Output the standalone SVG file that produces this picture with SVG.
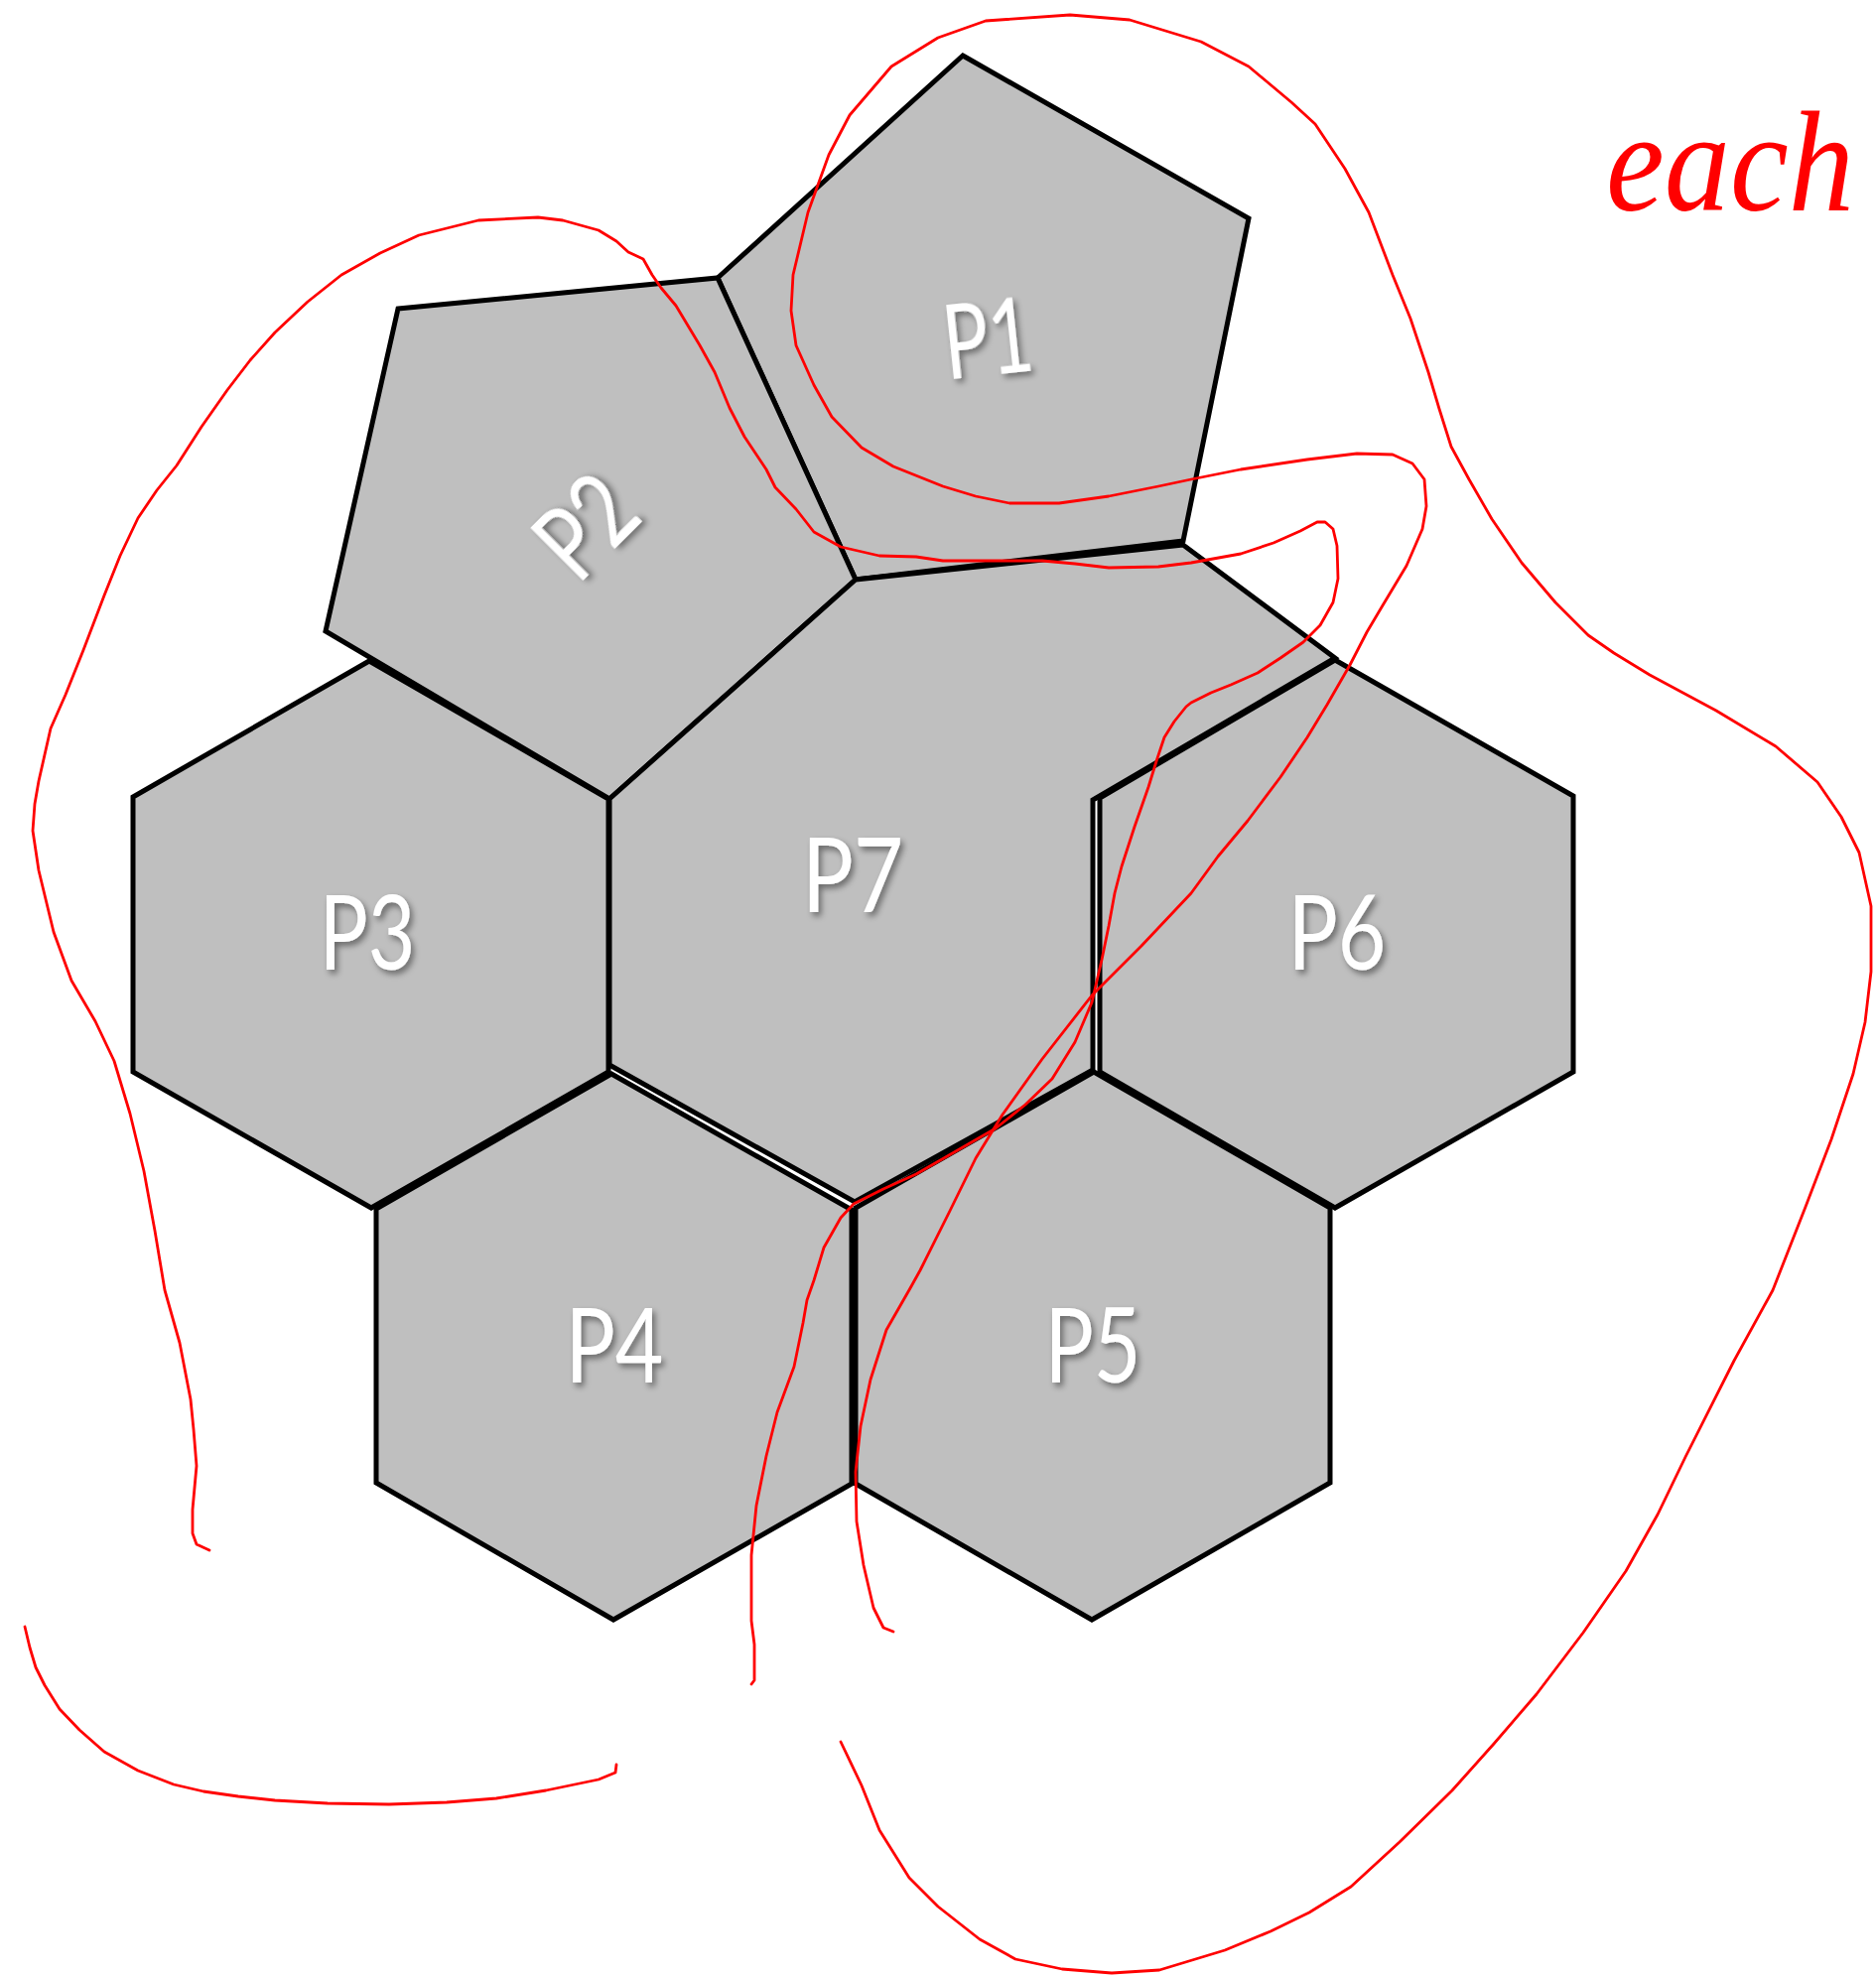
<svg xmlns="http://www.w3.org/2000/svg" width="1890" height="1993" viewBox="0 0 1890 1993">
<defs>
<style>
.tile{fill:#bfbfbf;stroke:#000;stroke-width:5;stroke-linejoin:miter}
.lbl{fill:#fff;font-family:Lato,"Open Sans","Liberation Sans",sans-serif;font-size:104px;text-anchor:middle;filter:url(#sh)}
.pen{fill:none;stroke:#ff0000;stroke-width:2.8;stroke-linecap:round;stroke-linejoin:round}
.hand{fill:#ff0000;font-family:"Liberation Serif",serif;font-style:italic;font-size:145px}
</style>
<filter id="sh" x="-30%" y="-30%" width="160%" height="160%">
<feDropShadow dx="3" dy="4" stdDeviation="3" flood-color="#000" flood-opacity="0.45"/>
</filter>
</defs>
<rect width="1890" height="1993" fill="#fff"/>
<g id="P1">
<polygon class="tile" points="970,56 1258,220 1192,545 862,584 723,280"/>
<text class="lbl" transform="translate(995,341) rotate(-6)" x="0" y="37" textLength="90" lengthAdjust="spacingAndGlyphs">P1</text>
</g>
<g id="P2">
<polygon class="tile" points="401,311 723,280 862,584 614,805 328,636"/>
<text class="lbl" transform="translate(590,530) rotate(-45)" x="0" y="37" textLength="96" lengthAdjust="spacingAndGlyphs">P2</text>
</g>
<g id="P7">
<polygon class="tile" points="614,805 862,584 1192,549 1345,663 1101,806 1101,1078 861,1211 614,1073"/>
<text class="lbl" x="859" y="919" textLength="102" lengthAdjust="spacingAndGlyphs">P7</text>
</g>
<g id="P3">
<polygon class="tile" points="372,666 613,805 613,1080 374,1217 134,1080 134,803"/>
<text class="lbl" x="370" y="977" textLength="97" lengthAdjust="spacingAndGlyphs">P3</text>
</g>
<g id="P4">
<polygon class="tile" points="616,1082 858,1219 858,1495 618,1632 379,1494 379,1218"/>
<text class="lbl" x="619" y="1393" textLength="99" lengthAdjust="spacingAndGlyphs">P4</text>
</g>
<g id="P5">
<polygon class="tile" points="1102,1080 1340,1217 1340,1494 1100,1632 862,1495 862,1217"/>
<text class="lbl" x="1101" y="1393" textLength="97" lengthAdjust="spacingAndGlyphs">P5</text>
</g>
<g id="P6">
<polygon class="tile" points="1345,665 1585,802 1585,1080 1345,1217 1108,1080 1108,804"/>
<text class="lbl" x="1347" y="977" textLength="99" lengthAdjust="spacingAndGlyphs">P6</text>
</g>
<g id="ink">
<polyline class="pen" points="211,1562 198,1556 194,1545 194,1521 198,1477 195,1440 192,1410 181,1353 166,1300 156,1240 145,1180 131,1122 115,1069 96,1029 72,988 54,939 39,877 33,837 35,810 39,787 51,734 66,700 84,655 105,600 121,560 139,522 158,494 178,469 203,430 229,393 252,363 277,335 310,304 344,277 383,255 422,237 482,222 542,219 567,222 603,232 621,243 633,254 648,261 657,277 666,290 681,308 705,348 720,375 735,411 750,440 772,473 781,491 802,513 820,536 847,551 886,560 923,561 950,565 1000,565 1050,565 1083,568 1117,572 1167,571 1200,567 1250,558 1283,547 1310,535 1327,526 1335,526 1343,533 1347,550 1348,583 1343,607 1330,630 1313,647 1290,663 1267,678 1240,690 1220,698 1200,708 1195,712 1183,727 1173,743 1165,767 1157,793 1143,833 1130,873 1123,900 1117,933 1110,967 1100,1010 1083,1050 1060,1087 1033,1113 1003,1137 963,1160 923,1183 890,1198 860,1213 847,1227 830,1257 820,1290 813,1310 809,1333 800,1377 783,1423 772,1467 762,1517 757,1567 757,1633 760,1657 760,1693 757,1697"/>
<polyline class="pen" points="847,1755 868,1799 886,1844 916,1892 945,1921 987,1954 1023,1974 1070,1984 1120,1988 1168,1985 1234,1965 1280,1946 1319,1927 1361,1901 1410,1856 1463,1804 1505,1757 1548,1707 1595,1645 1638,1583 1670,1526 1698,1468 1747,1371 1786,1300 1819,1216 1845,1148 1867,1082 1879,1030 1885,979 1885,913 1873,859 1855,823 1831,788 1789,752 1729,716 1662,680 1626,658 1600,640 1567,607 1533,567 1503,523 1480,483 1462,450 1450,412 1439,375 1421,321 1403,277 1379,214 1355,170 1325,125 1301,103 1258,67 1210,42 1138,20 1078,15 993,21 945,38 898,67 856,116 835,156 814,214 799,277 797,313 802,348 820,388 838,420 868,451 900,470 950,490 983,500 1017,507 1067,507 1117,500 1167,490 1200,483 1250,473 1317,463 1367,457 1403,458 1423,467 1435,483 1437,510 1433,533 1417,570 1393,610 1377,637 1360,670 1337,710 1317,743 1290,783 1257,827 1227,863 1200,900 1150,953 1100,1003 1050,1067 1010,1123 983,1167 957,1220 927,1280 917,1298 893,1340 877,1390 867,1437 862,1483 863,1533 870,1577 880,1620 890,1640 900,1644"/>
<polyline class="pen" points="25,1639 30,1660 36,1680 45,1698 60,1722 80,1743 105,1765 139,1784 175,1798 205,1805 240,1810 277,1814 330,1817 392,1818 450,1816 500,1812 550,1804 603,1793 620,1786 621,1778"/>
<text class="hand" x="1618" y="212" textLength="250" lengthAdjust="spacingAndGlyphs">each</text>
</g>
</svg>
